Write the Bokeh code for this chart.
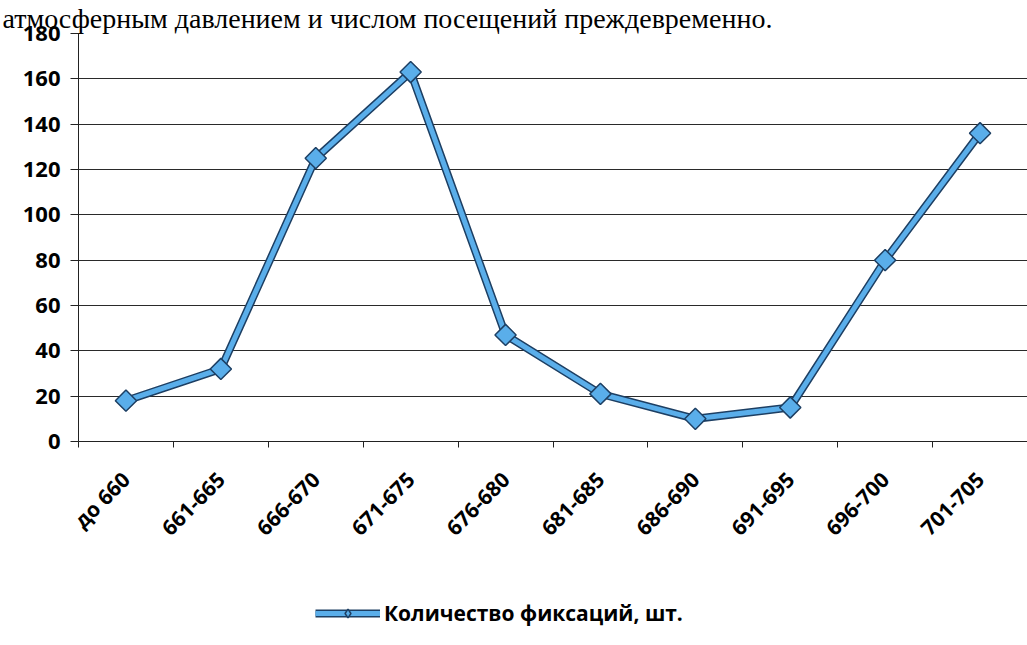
import math
from bokeh.plotting import figure
from bokeh.layouts import column
from bokeh.models import (Range1d, FixedTicker, Legend, LegendItem, Title)
from bokeh.embed import file_html
from bokeh.resources import INLINE

# Pressure bands (mm Hg) and number of recorded visits in each band
categories = ["до 660", "661-665", "666-670", "671-675", "676-680",
              "681-685", "686-690", "691-695", "696-700", "701-705"]
counts = [18, 32, 125, 163, 47, 21, 10, 15, 80, 136]
y_ticks = [0, 20, 40, 60, 80, 100, 120, 140, 160, 180]
series_name = "Количество фиксаций, шт."
heading = "атмосферным давлением и числом посещений преждевременно."

xs = [i + 0.5 for i in range(len(categories))]

EDGE = "#1d3f63"
CORE = "#5aaeea"

p = figure(width=1027, height=585, output_backend="svg", toolbar_location=None,
           x_range=Range1d(0, len(categories)), y_range=Range1d(0, 180),
           min_border_left=78, min_border_right=0, min_border_top=0,
           min_border_bottom=144)
p.outline_line_color = None
p.background_fill_color = None
p.border_fill_color = None

# running text line of the surrounding document above the chart
p.add_layout(Title(text=heading, text_font="Liberation Serif", text_font_size="28px",
                   text_font_style="normal", text_color="black", align="left",
                   offset=-76, standoff=0), "above")

# horizontal grid only
p.xgrid.visible = False
p.ygrid.grid_line_color = "#2a2a2a"
p.ygrid.grid_line_width = 1
p.ygrid.ticker = FixedTicker(ticks=y_ticks)

# value axis
p.yaxis.ticker = FixedTicker(ticks=y_ticks)
p.yaxis.axis_line_color = "#222222"
p.yaxis.major_tick_line_color = "#222222"
p.yaxis.major_tick_out = 8
p.yaxis.major_tick_in = 0
p.yaxis.minor_tick_line_color = None
p.yaxis.major_label_standoff = 10
p.yaxis.major_label_text_font = "Open Sans"
p.yaxis.major_label_text_font_style = "bold"
p.yaxis.major_label_text_font_size = "22px"
p.yaxis.major_label_text_color = "black"

# category axis: labels at band centres, tick marks between bands
p.xaxis.ticker = FixedTicker(ticks=xs, minor_ticks=list(range(len(categories) + 1)))
p.xaxis.major_label_overrides = {x: c for x, c in zip(xs, categories)}
p.xaxis.major_tick_line_color = None
p.xaxis.minor_tick_line_color = "#222222"
p.xaxis.minor_tick_out = 6
p.xaxis.minor_tick_in = 0
p.xaxis.axis_line_color = "#222222"
p.xaxis.major_label_orientation = math.pi / 4
p.xaxis.major_label_standoff = 28
p.xaxis.major_label_text_font = "Open Sans"
p.xaxis.major_label_text_font_style = "bold"
p.xaxis.major_label_text_font_size = "21px"
p.xaxis.major_label_text_color = "black"

# series line: dark edge under a light-blue core, with diamond markers
p.line(xs, counts, line_color=EDGE, line_width=8, line_join="miter")
p.line(xs, counts, line_color=CORE, line_width=5, line_join="miter")
p.scatter(xs, counts, marker="square", angle=math.pi / 4, size=15,
          fill_color=CORE, line_color=EDGE, line_width=1.5)

# legend strip under the chart; its series sits outside the strip's view,
# so only the legend key is seen
lf = figure(width=1027, height=60, output_backend="svg", toolbar_location=None,
            x_range=Range1d(-20, -10), y_range=Range1d(-20, -10),
            x_axis_location=None, y_axis_location=None, min_border=0)
lf.outline_line_color = None
lf.grid.visible = False
lf.background_fill_color = None
lf.border_fill_color = None
k_edge = lf.line(xs, counts, line_color=EDGE, line_width=8)
k_core = lf.line(xs, counts, line_color=CORE, line_width=5)
k_mark = lf.scatter(xs, counts, marker="diamond", size=20,
                    fill_color=CORE, line_color=EDGE, line_width=1.5)

legend = Legend(items=[LegendItem(label=series_name, renderers=[k_edge, k_core, k_mark])],
                location=(237, 18), orientation="horizontal",
                glyph_width=65, glyph_height=22, label_standoff=4,
                padding=2, margin=0, spacing=0,
                border_line_color=None, background_fill_alpha=0,
                label_text_font="Open Sans", label_text_font_style="bold",
                label_text_font_size="21px", label_text_color="black")
lf.add_layout(legend, "center")

layout = column(p, lf, spacing=0)
open("out.html", "w").write(file_html(layout, INLINE))
